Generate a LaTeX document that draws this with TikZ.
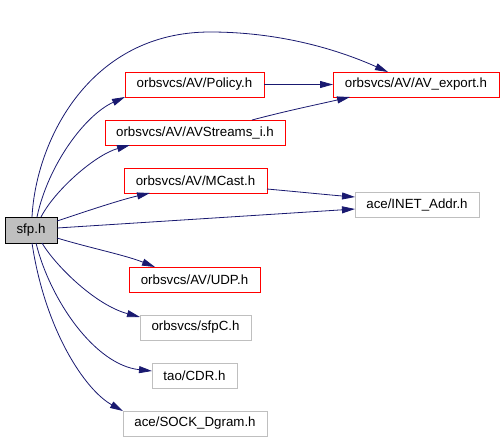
\documentclass[tikz,border=0pt]{standalone}
\usepackage{fontspec}
\setmainfont{Liberation Sans}
\usetikzlibrary{arrows.meta,calc}
\definecolor{edgeblue}{HTML}{191970}
\definecolor{boxgray}{HTML}{BFBFBF}
\definecolor{boxred}{HTML}{FF0000}
\begin{document}
\begin{tikzpicture}[x=1pt,y=-1pt,
  box/.style={rectangle,draw,line width=1pt,inner sep=0pt,outer sep=0pt,minimum height=25pt,
    font=\fontsize{13.3}{16}\selectfont},
  redbox/.style={box,draw=boxred},
  graybox/.style={box,draw=boxgray},
  rootbox/.style={box,draw=black,fill=boxgray},
  dep/.style={draw=edgeblue,line width=0.8pt,-{Triangle[length=13pt,width=7pt]},fill=none,
    arrows={[color=edgeblue,fill=edgeblue]}}]
\useasboundingbox (0,0) rectangle (504,440);
\node[rootbox,minimum width=52pt,minimum height=26pt] (sfp) at (31,230) {sfp.h};
\node[redbox,minimum width=139pt] (policy) at (194.5,84.5) {orbsvcs/AV/Policy.h};
\node[redbox,minimum width=166pt] (avx) at (416,84.5) {orbsvcs/AV/AV\_export.h};
\node[redbox,minimum width=180pt] (avs) at (195,132.5) {orbsvcs/AV/AVStreams\_i.h};
\node[redbox,minimum width=143pt] (mcast) at (195.5,180.5) {orbsvcs/AV/MCast.h};
\node[graybox,minimum width=124pt] (inet) at (417,204.5) {ace/INET\_Addr.h};
\node[redbox,minimum width=131pt] (udp) at (194.5,279.5) {orbsvcs/AV/UDP.h};
\node[graybox,minimum width=111pt] (sfpc) at (195.5,327.5) {orbsvcs/sfpC.h};
\node[graybox,minimum width=85pt] (cdr) at (194.5,375.5) {tao/CDR.h};
\node[graybox,minimum width=144pt] (sock) at (195,423.5) {ace/SOCK\_Dgram.h};

\draw[dep] ($(sfp.north west)+(27,0)$) .. controls (36,140) and (90,32) .. (210,32)
  .. controls (290,32) and (350,55) .. ($(avx.north west)+(55,0)$);
\draw[dep] ($(sfp.north west)+(32,0)$) .. controls (48,165) and (85,115) .. (policy.south west);
\draw[dep] ($(sfp.north west)+(36,0)$) .. controls (55,190) and (95,155) .. ($(avs.south west)+(25,0)$);
\draw[dep] ($(sfp.north east)+(0,4)$) .. controls (90,210) and (120,200) .. ($(mcast.south west)+(26,0)$);
\draw[dep] ($(sfp.east)+(0,-2)$) -- ($(inet.west)+(0,4.5)$);
\draw[dep] ($(sfp.south east)+(0,-5)$) .. controls (90,248) and (125,255) .. ($(udp.north west)+(26,0)$);
\draw[dep] ($(sfp.south west)+(37,0)$) .. controls (55,265) and (95,305) .. ($(sfpc.north west)+(0,2)$);
\draw[dep] ($(sfp.south west)+(31,0)$) .. controls (50,300) and (95,365) .. ($(cdr.north west)+(0,8)$);
\draw[dep] ($(sfp.south west)+(27,0)$) .. controls (45,330) and (85,390) .. (sock.north west);
\draw[dep] (policy.east) -- (avx.west);
\draw[dep] ($(avs.north west)+(147,0)$) .. controls (290,110) and (320,104) .. ($(avx.south west)+(17,0)$);
\draw[dep] ($(mcast.east)+(0,8.5)$) .. controls (300,192) and (330,195) .. ($(inet.west)+(0,-7.5)$);
\end{tikzpicture}
\end{document}
